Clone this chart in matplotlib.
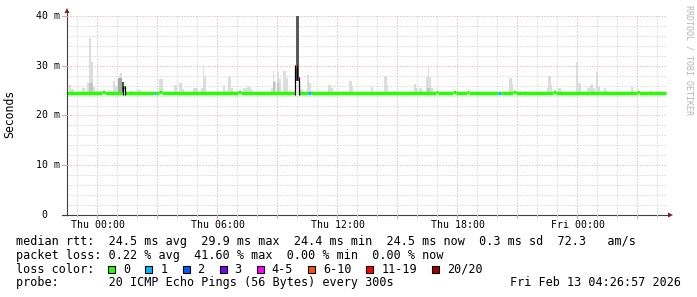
#!/usr/bin/env python3
"""
plot.py

SmokePing style latency graph (RRDtool look):
    - smoke of the single pings (grey bars)
    - median rtt line coloured by packet loss
    - text legend below the graph

Output: out.png (697 x 297 px)
"""

import matplotlib
matplotlib.use("Agg")
import matplotlib.pyplot as plt
from matplotlib.patches import Rectangle, Polygon

# ============================================================
# DATA  (x = hours since Wed 22:30, y = milliseconds)
# ============================================================

TICK_HOURS = [1.5, 7.5, 13.5, 19.5, 25.5]
TICK_LABELS = ["Thu 00:00", "Thu 06:00", "Thu 12:00", "Thu 18:00", "Fri 00:00"]

Y_TICKS = [0, 10, 20, 30, 40]
Y_TICK_LABELS = ["0  ", "10 m", "20 m", "30 m", "40 m"]

# light smoke: outer pings
SMOKE_START = [0.08, 0.20, 0.75, 1.00, 1.08, 1.20, 1.30, 1.40, 2.30, 2.42,
               2.58, 2.67, 2.75, 3.15, 3.50, 4.58, 5.33, 5.58, 5.75, 6.30,
               6.70, 6.78, 6.85, 7.48, 7.78, 7.90, 8.05, 8.18, 8.80, 8.98,
               9.07, 9.18, 10.18, 10.28, 10.37, 10.48, 10.58, 10.82, 10.95, 11.62,
               12.02, 12.10, 12.20, 13.07, 13.18, 14.12, 14.23, 15.18, 15.85, 15.98,
               16.28, 17.15, 17.35, 17.45, 17.62, 17.73, 17.95, 18.05, 18.10, 18.18,
               22.10, 22.23, 22.90, 24.02, 24.07, 24.18, 24.57, 24.68, 25.45, 25.57,
               25.98, 26.10, 26.18, 26.28, 26.45, 26.57, 26.70, 26.85, 26.95, 28.18,
               28.28, 28.48, 29.12]
SMOKE_END = [0.20, 0.33, 0.90, 1.08, 1.20, 1.30, 1.40, 1.75, 2.42, 2.58,
             2.67, 2.75, 2.85, 3.30, 3.70, 4.80, 5.50, 5.75, 5.85, 6.55,
             6.78, 6.85, 6.95, 7.65, 7.90, 8.05, 8.18, 8.28, 8.98, 9.07,
             9.18, 9.28, 10.28, 10.37, 10.45, 10.58, 10.70, 10.95, 11.07, 11.82,
             12.10, 12.20, 12.32, 13.18, 13.32, 14.23, 14.32, 15.32, 15.98, 16.07,
             16.40, 17.32, 17.45, 17.57, 17.73, 17.82, 18.05, 18.10, 18.18, 18.28,
             22.23, 22.32, 23.02, 24.07, 24.18, 24.27, 24.68, 24.78, 25.57, 25.68,
             26.10, 26.18, 26.28, 26.40, 26.57, 26.65, 26.82, 26.95, 27.07, 28.28,
             28.32, 28.65, 29.23]
SMOKE_TOP = [26.1, 25.3, 25.5, 26.6, 35.5, 30.8, 25.8, 25.0, 26.9, 26.0,
             28.0, 28.5, 26.5, 25.0, 25.2, 27.3, 26.1, 26.6, 25.3, 25.5,
             25.5, 30.1, 27.8, 25.0, 26.1, 25.0, 27.8, 25.6, 25.5, 25.8,
             25.7, 25.2, 25.5, 29.0, 26.9, 28.8, 27.3, 29.0, 27.6, 25.3,
             28.1, 26.6, 25.0, 26.1, 25.5, 26.9, 25.8, 25.8, 27.9, 26.1,
             24.9, 24.9, 26.4, 25.6, 25.5, 25.0, 27.8, 29.8, 27.8, 25.5,
             27.5, 26.4, 25.0, 25.5, 27.9, 26.1, 25.5, 25.0, 30.8, 26.6,
             25.5, 25.9, 26.4, 25.5, 28.8, 25.8, 24.9, 25.5, 25.0, 25.8,
             25.0, 24.9, 25.0]

# inner (darker) smoke
DARK_START = [1.08, 2.55, 2.75, 10.28, 10.50, 18.00, 11.46]
DARK_END = [1.30, 2.75, 2.85, 10.40, 10.58, 18.15, 11.59]
DARK_BOTTOM = [24.3, 24.3, 24.3, 24.3, 24.3, 24.3, 27.0]
DARK_TOP = [26.5, 27.6, 26.8, 26.8, 26.6, 25.5, 41.0]
DARK_SHADE = ["#c4c4c4", "#a8a8a8", "#505050", "#c4c4c4", "#c4c4c4", "#c4c4c4", "#5a5a5a"]

# median rtt, flat at MEDIAN_BASE except in these steps
MEDIAN_BASE = 24.5
MEDIAN_FROM = 0.0
MEDIAN_TO = 29.97
MED_START = [1.75, 2.78, 4.33, 4.60, 8.55, 11.42, 11.50, 12.05, 18.45, 19.30,
             19.98, 21.53, 22.30, 24.28, 28.50]
MED_END = [1.90, 2.90, 4.45, 4.75, 8.68, 11.50, 11.58, 12.20, 18.55, 19.45,
           20.10, 21.70, 22.43, 24.43, 28.60]
MED_VALUE = [24.7, 25.8, 24.5, 24.7, 24.7, 29.9, 27.5, 24.5, 24.7, 24.7,
             24.7, 24.5, 24.7, 24.7, 24.7]
MED_LOSS = [0, 0, 1, 0, 0, 5, 4, 1, 0, 0, 0, 1, 0, 0, 0]

LOSS_LABELS = ["0", "1", "2", "3", "4-5", "6-10", "11-19", "20/20"]
LOSS_COLORS = ["#26ff00", "#00b8ff", "#0059ff", "#7e00ff",
               "#ff00ff", "#ff5500", "#ff0000", "#a10000"]

LEGEND_LINES = [
    "median rtt:  24.5 ms avg  29.9 ms max  24.4 ms min  24.5 ms now  0.3 ms sd  72.3   am/s",
    "packet loss: 0.22 % avg  41.60 % max  0.00 % min  0.00 % now",
    "loss color:",
    "probe:       20 ICMP Echo Pings (56 Bytes) every 300s",
]
TIMESTAMP = "Fri Feb 13 04:26:57 2026"

# ============================================================
# STYLE
# ============================================================

W, H = 697, 297
MONO = "DejaVu Sans Mono"
CHAR_W = 7.1          # px per legend character
MINOR_GRID = "#c8c8c8"
MAJOR_GRID = "#e3a3a3"
AXIS_COLOR = "#404040"
ARROW_COLOR = "#8b1a1a"
SMOKE_LIGHT = "#dcdcdc"
SMOKE_BASE = 24.3


def fx(px):
    return px / W


def fy(py):
    return 1 - py / H


# ============================================================
# MEDIAN SEGMENTS
# ============================================================

def median_segments():
    segs = []
    t = MEDIAN_FROM
    for s, e, v, l in zip(MED_START, MED_END, MED_VALUE, MED_LOSS):
        if s > t:
            segs.append((t, s, MEDIAN_BASE, 0))
        segs.append((s, e, v, l))
        t = e
    segs.append((t, MEDIAN_TO, MEDIAN_BASE, 0))
    return segs


# ============================================================
# PLOT
# ============================================================

def main():

    fig = plt.figure(figsize=(W / 100, H / 100), dpi=100)
    fig.patch.set_facecolor("white")

    ax = fig.add_axes([fx(67), fy(215), fx(600), 199 / H])
    ax.set_xlim(0, 30)
    ax.set_ylim(0, 40)
    ax.axis("off")

    # grid
    dot = (0, (1, 2))
    for i in range(30):
        h = i + 0.5
        major = (i - 1) % 3 == 0
        ax.axvline(h, color=MAJOR_GRID if major else MINOR_GRID,
                   lw=0.72, ls=dot, zorder=1)
    for v in range(2, 41, 2):
        major = v % 10 == 0
        ax.axhline(v, color=MAJOR_GRID if major else MINOR_GRID,
                   lw=0.72, ls=dot, zorder=1)

    # smoke
    ax.bar(SMOKE_START,
           [t - SMOKE_BASE for t in SMOKE_TOP],
           width=[e - s for s, e in zip(SMOKE_START, SMOKE_END)],
           bottom=SMOKE_BASE, align="edge", color=SMOKE_LIGHT,
           lw=0, zorder=2)
    ax.bar(DARK_START,
           [t - b for t, b in zip(DARK_TOP, DARK_BOTTOM)],
           width=[e - s for s, e in zip(DARK_START, DARK_END)],
           bottom=DARK_BOTTOM, align="edge", color=DARK_SHADE,
           lw=0, zorder=3)

    # median line: black edges on the larger steps, then loss colours
    segs = median_segments()
    for a, b in zip(segs[:-1], segs[1:]):
        if abs(a[2] - b[2]) > 0.5:
            lo, hi = min(a[2], b[2]), max(a[2], b[2])
            ax.plot([b[0], b[0]], [lo - 0.3, hi + 0.2], color="black",
                    lw=0.9, zorder=6, solid_capstyle="butt")
    for s, e, v, l in segs:
        ax.plot([s, e], [v, v], color=LOSS_COLORS[l], lw=2.5,
                solid_capstyle="butt", zorder=5)

    # axes lines + arrows (figure pixels)
    fig.add_artist(plt.Line2D([fx(67), fx(67)], [fy(215), fy(11)],
                              color=AXIS_COLOR, lw=0.8))
    fig.add_artist(plt.Line2D([fx(62), fx(669)], [fy(215), fy(215)],
                              color=AXIS_COLOR, lw=0.8))
    fig.add_artist(Polygon([(fx(64.5), fy(13)), (fx(69.5), fy(13)), (fx(67), fy(8))],
                           closed=True, color=ARROW_COLOR, lw=0))
    fig.add_artist(Polygon([(fx(668), fy(212.5)), (fx(668), fy(217.5)), (fx(673), fy(215))],
                           closed=True, color=ARROW_COLOR, lw=0))

    # y ticks
    for v, lab in zip(Y_TICKS, Y_TICK_LABELS):
        py = 215 - v * 199 / 40
        fig.add_artist(plt.Line2D([fx(62), fx(67)], [fy(py), fy(py)],
                                  color=MAJOR_GRID if v else AXIS_COLOR, lw=0.8))
        fig.text(fx(60), fy(py), lab, ha="right", va="center",
                 family=MONO, fontsize=7.1, color="black")

    # x ticks
    for h, lab in zip(TICK_HOURS, TICK_LABELS):
        px = 67 + h * 20
        fig.text(fx(px + 1), fy(224.5), lab, ha="center", va="center",
                 family=MONO, fontsize=7.1, color="black")
    for i in range(30):
        px = 67 + (i + 0.5) * 20
        major = (i - 1) % 3 == 0
        fig.add_artist(plt.Line2D([fx(px), fx(px)], [fy(215), fy(218 if major else 217)],
                                  color=MAJOR_GRID if major else MINOR_GRID, lw=0.8))

    # y label + watermark
    fig.text(fx(10), fy(114), "Seconds", rotation=90, ha="center", va="center",
             family=MONO, fontsize=8.3, color="black")
    fig.text(fx(688.5), fy(60), "RRDTOOL / TOBI OETIKER", rotation=270,
             ha="center", va="center", family=MONO, fontsize=6, color="#b4b4b4")

    # legend text
    line_y = [241.7, 255.0, 269.3, 282.7]
    for py, txt in zip(line_y, LEGEND_LINES):
        fig.text(fx(16), fy(py), txt, ha="left", va="center",
                 family=MONO, fontsize=8.5, color="black")
    fig.text(fx(681), fy(282.7), TIMESTAMP, ha="right", va="center",
             family=MONO, fontsize=8.5, color="black")

    # loss colour boxes
    x = 16 + 13 * CHAR_W
    for lab, col in zip(LOSS_LABELS, LOSS_COLORS):
        fig.add_artist(Rectangle((fx(x), fy(273)), 7 / W, 7 / H,
                                 facecolor=col, edgecolor="black", lw=0.8))
        fig.text(fx(x + 15), fy(269.3), lab, ha="left", va="center",
                 family=MONO, fontsize=8.5, color="black")
        x = x + 15 + len(lab) * CHAR_W + 15

    fig.savefig("out.png", dpi=100, facecolor="white")
    plt.close(fig)


if __name__ == "__main__":
    main()
